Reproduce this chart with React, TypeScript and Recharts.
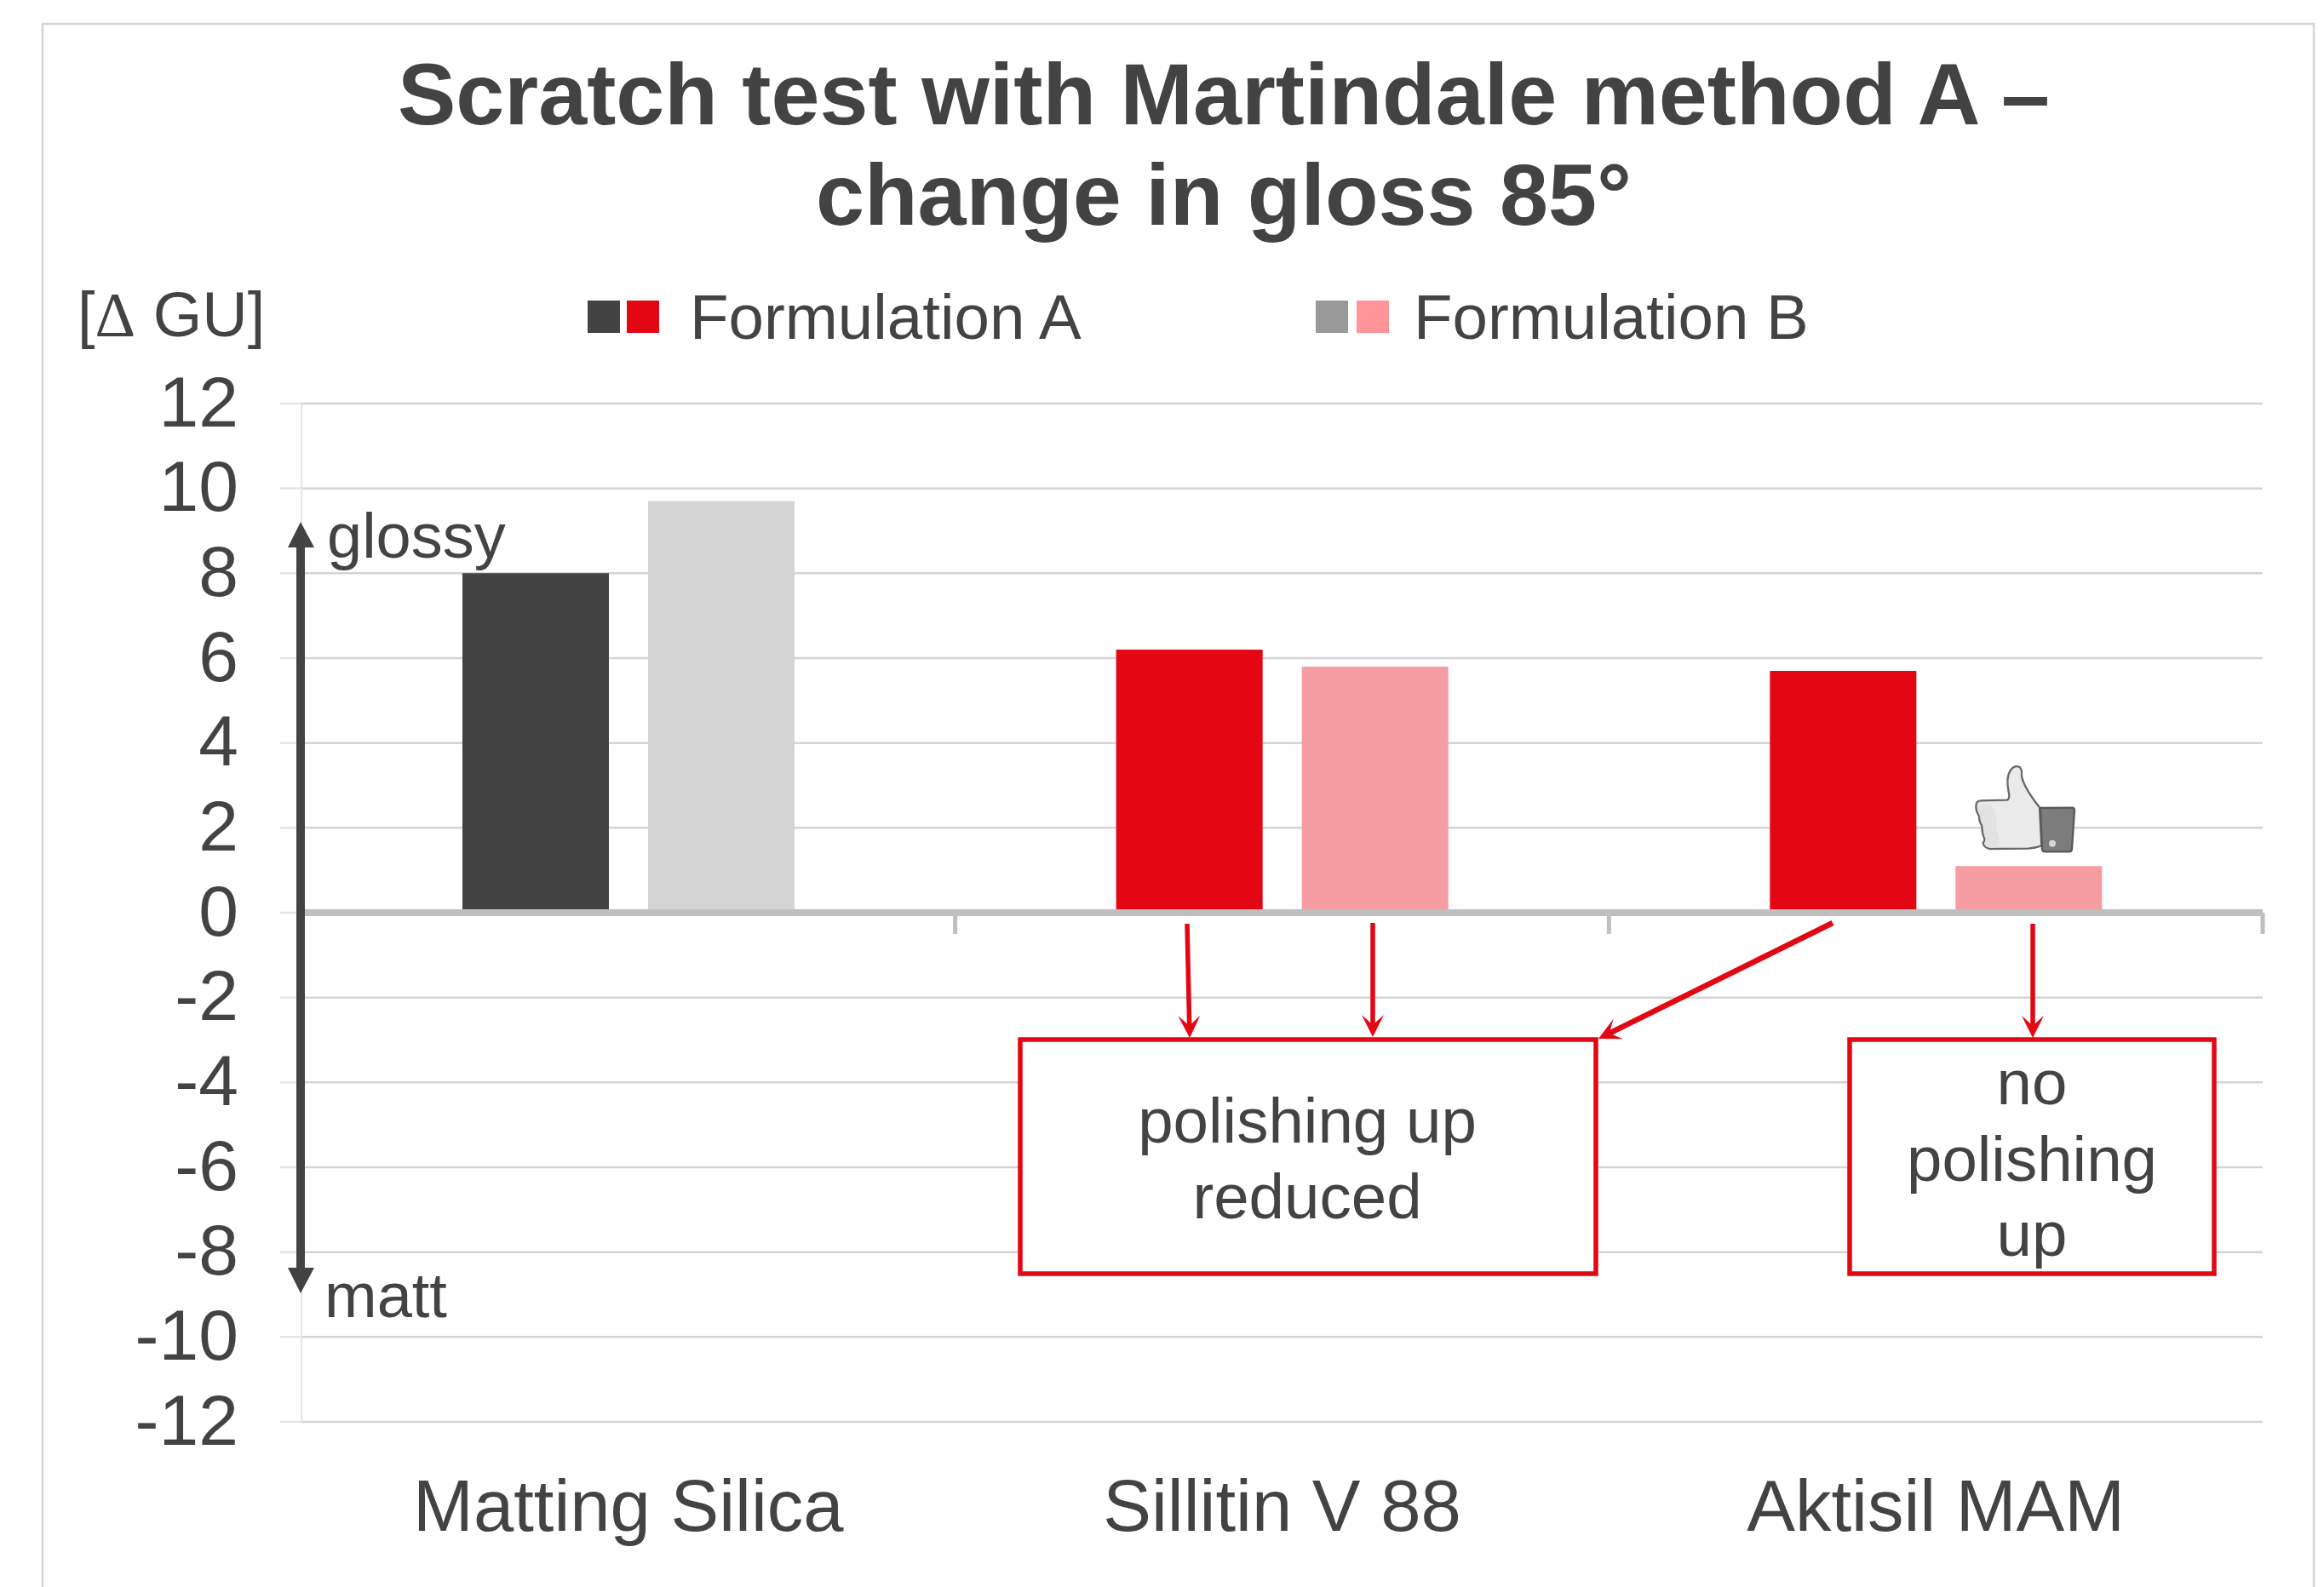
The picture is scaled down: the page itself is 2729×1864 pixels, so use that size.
import React from "react";
import { BarChart, Bar, Cell, XAxis, YAxis, CartesianGrid, ReferenceLine, Legend } from "recharts";

const categories = ["Matting Silica", "Sillitin V 88", "Aktisil MAM"];
const formulationA = [8.0, 6.2, 5.7];
const formulationB = [9.7, 5.8, 1.1];
const yTicks = [12, 10, 8, 6, 4, 2, 0, -2, -4, -6, -8, -10, -12];
const colorsA = ["#434343", "#E30613", "#E30613"];
const colorsB = ["#D4D4D4", "#F59DA3", "#F59DA3"];
const legendColorsA = ["#434343", "#E30613"];
const legendColorsB = ["#999999", "#FF9499"];

const chartData = categories.map((name, i) => ({
  name,
  a: formulationA[i],
  b: formulationB[i],
}));

const FONT = "'Liberation Sans', Arial, sans-serif";
const INK = "#434343";
const RED = "#E30613";
const GRID = "#D4D4D4";

type Pt = [number, number];

function RedArrow({ from, to, w = 5.5 }: { from: Pt; to: Pt; w?: number }) {
  const dx = to[0] - from[0];
  const dy = to[1] - from[1];
  const len = Math.hypot(dx, dy);
  const ux = dx / len;
  const uy = dy / len;
  const nx = -uy;
  const ny = ux;
  const hl = 26;
  const hw = 13;
  const a: Pt = [to[0] - ux * hl + nx * hw, to[1] - uy * hl + ny * hw];
  const b: Pt = [to[0] - ux * hl - nx * hw, to[1] - uy * hl - ny * hw];
  const n: Pt = [to[0] - ux * hl * 0.55, to[1] - uy * hl * 0.55];
  return (
    <g>
      <line x1={from[0]} y1={from[1]} x2={n[0]} y2={n[1]} stroke={RED} strokeWidth={w} />
      <polygon points={`${to[0]},${to[1]} ${a[0]},${a[1]} ${n[0]},${n[1]} ${b[0]},${b[1]}`} fill={RED} />
    </g>
  );
}

function Thumb() {
  return (
    <g transform="translate(2200 850) scale(0.3333)">
      <path
        d="M362 285 Q362 272 380 271 L470 269 Q482 266 476 240 Q466 190 482 165 Q495 146 514 152 Q524 158 522 185 Q530 225 585 295 L592 430 Q570 438 545 440 L410 441 Q388 438 386 420 Q396 408 388 398 Q382 380 382 360 Q372 345 372 325 Q358 305 362 285 Z"
        fill="#EAEAEA"
        stroke="#686868"
        strokeWidth={7}
        strokeLinejoin="round"
      />
      <path
        d="M366 290 Q420 280 425 300 Q440 340 432 370 Q450 410 440 436 L410 437 Q392 435 390 420 Q400 408 392 398 Q386 380 386 360 Q376 345 376 325 Q364 305 366 290 Z"
        fill="#E2E2E2"
      />
      <path
        d="M588 297 L700 296 Q709 296 708 306 L699 442 Q698 451 690 451 L605 451 Q596 451 594 443 Z"
        fill="#7C7C7C"
        stroke="#5A5A5A"
        strokeWidth={7}
        strokeLinejoin="round"
      />
      <circle cx={630} cy={422} r={12} fill="#D8D8D8" />
    </g>
  );
}

function LegendBlock({ payload }: any) {
  const starts = [690, 1545];
  const secondStarts = [736, 1593];
  const textStarts = [810, 1660];
  const palettes = [legendColorsA, legendColorsB];
  const items = payload || [];
  return (
    <svg width={2729} height={120} style={{ position: "absolute", left: 0, top: 0, overflow: "visible" }}>
      {items.map((it: any, i: number) => (
        <g key={i}>
          <rect x={starts[i]} y={43} width={38} height={38} fill={palettes[i][0]} />
          <rect x={secondStarts[i]} y={43} width={38} height={38} fill={palettes[i][1]} />
          <text x={textStarts[i]} y={88} fontFamily={FONT} fontSize={74.5} fill={INK}>
            {it.value}
          </text>
        </g>
      ))}
    </svg>
  );
}

export default function App() {
  return (
    <div style={{ position: "absolute", left: 0, top: 0, width: 2729, height: 1864, background: "#fff", overflow: "hidden" }}>
      <BarChart
        width={2729}
        height={1864}
        data={chartData}
        margin={{ top: 474, right: 72, bottom: 44, left: 0 }}
        barSize={172}
        barGap={46}
      >
        <CartesianGrid horizontal vertical={false} stroke={GRID} strokeWidth={2.5} />
        <XAxis
          dataKey="name"
          height={150}
          interval={0}
          axisLine={false}
          tickLine={false}
          tickMargin={62}
          tick={{ fontFamily: FONT, fontSize: 85, fill: INK }}
        />
        <YAxis
          type="number"
          domain={[-12, 12]}
          ticks={yTicks}
          interval={0}
          width={354}
          tickSize={25}
          tickMargin={49}
          axisLine={{ stroke: "#E4E4E4", strokeWidth: 2 }}
          tickLine={{ stroke: "#E4E4E4", strokeWidth: 2.5 }}
          tick={{ fontFamily: FONT, fontSize: 84, fill: INK, dy: -3 }}
        />
        <Legend
          layout="horizontal"
          verticalAlign="middle"
          align="center"
          wrapperStyle={{ position: "absolute", left: 0, top: 310, width: 2729, height: 120, margin: 0 }}
          content={<LegendBlock />}
        />
        <Bar dataKey="a" name="Formulation A" isAnimationActive={false}>
          {colorsA.map((c, i) => (
            <Cell key={i} fill={c} />
          ))}
        </Bar>
        <Bar dataKey="b" name="Formulation B" isAnimationActive={false}>
          {colorsB.map((c, i) => (
            <Cell key={i} fill={c} />
          ))}
        </Bar>
        {categories.map((c) => (
          <ReferenceLine
            key={c}
            position="end"
            segment={[
              { x: c, y: 0 },
              { x: c, y: -0.5 },
            ]}
            stroke="#BFBFBF"
            strokeWidth={5}
          />
        ))}
        <ReferenceLine y={0} stroke="#BFBFBF" strokeWidth={8} />
      </BarChart>

      <svg width={2729} height={1864} style={{ position: "absolute", left: 0, top: 0, pointerEvents: "none" }}>
        <rect x={50} y={28} width={2667} height={2000} fill="none" stroke={GRID} strokeWidth={2.5} />

        <g fontFamily={FONT} fill={INK}>
          <g fontWeight="bold" fontSize={102.5} textAnchor="middle">
            <text x={1437} y={146}>Scratch test with Martindale method A –</text>
            <text x={1437} y={264}>change in gloss 85°</text>
          </g>
          <text x={91} y={395} fontSize={74}>
            [<tspan fontFamily="'Liberation Serif', serif">Δ</tspan> GU]
          </text>
          <text x={384} y={655} fontSize={74}>glossy</text>
          <text x={381} y={1547} fontSize={74}>matt</text>
        </g>

        <line x1={353} y1={640} x2={353} y2={1492} stroke={INK} strokeWidth={10} />
        <polygon points="353,613 369,643 338,643" fill={INK} />
        <polygon points="353,1519 369,1489 338,1489" fill={INK} />

        <rect x={1198} y={1221} width={676} height={275} fill="#fff" stroke={RED} strokeWidth={5.5} />
        <rect x={2172} y={1221} width={428} height={275} fill="#fff" stroke={RED} strokeWidth={5.5} />

        <g fontFamily={FONT} fill={INK} fontSize={74.5} textAnchor="middle">
          <text x={1535} y={1342}>polishing up</text>
          <text x={1535} y={1431}>reduced</text>
          <text x={2386} y={1297}>no</text>
          <text x={2386} y={1387}>polishing</text>
          <text x={2386} y={1475}>up</text>
        </g>

        <RedArrow from={[1394, 1085]} to={[1397, 1219]} />
        <RedArrow from={[1612, 1084]} to={[1612, 1218]} />
        <RedArrow from={[2152, 1084]} to={[1877, 1220]} w={6.5} />
        <RedArrow from={[2387, 1085]} to={[2387, 1219]} />

        <Thumb />
      </svg>
    </div>
  );
}
